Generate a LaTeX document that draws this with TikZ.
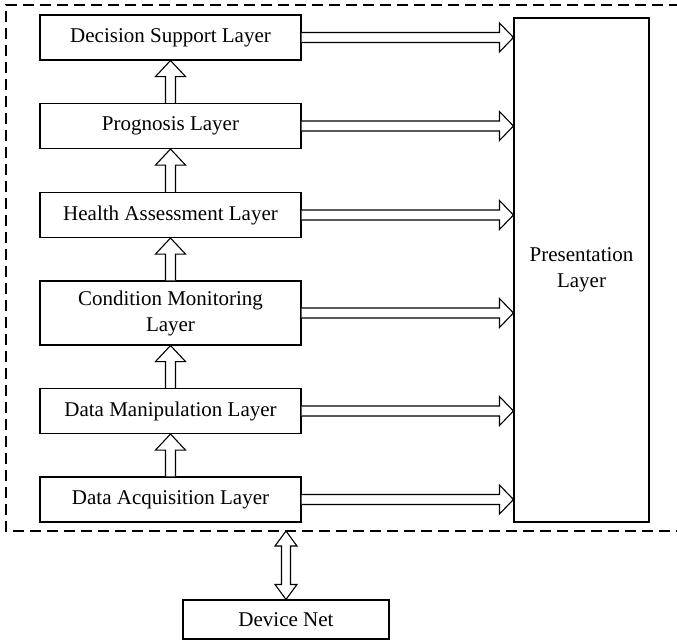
\documentclass[tikz,border=0pt]{standalone}
\usepackage{fontspec}
\setmainfont{Liberation Serif}
\usetikzlibrary{calc}

\tikzset{
  layer/.style={draw, line width=1.1pt, minimum width=261pt, minimum height=45pt,
    align=center, inner sep=0pt, font=\fontsize{21}{26}\selectfont},
  blockarrow/.style={draw, line width=1.1pt, fill=white, line join=miter},
  frame/.style={draw, line width=1.1pt, dash pattern=on 11pt off 6pt}
}

% horizontal block arrow: from node #1 (east side) to presentation layer
\newcommand{\rightblock}[1]{%
  \path (#1.east) coordinate (s) (pres.west |- #1.east) coordinate (t);
  \draw[blockarrow] ($(s)+(0,-5)$) -- ($(t)+(-14,-5)$) -- ($(t)+(-14,-14.5)$) -- (t)
    -- ($(t)+(-14,14.5)$) -- ($(t)+(-14,5)$) -- ($(s)+(0,5)$);
}
% vertical block arrow: from lower node #1 up to upper node #2
\newcommand{\upblock}[2]{%
  \path (#1.north) coordinate (s) (#2.south) coordinate (t);
  \draw[blockarrow] ($(s)+(-5,0)$) -- ($(t)+(-5,16)$) -- ($(t)+(-15,16)$) -- (t)
    -- ($(t)+(15,16)$) -- ($(t)+(5,16)$) -- ($(s)+(5,0)$);
}

\begin{document}
\begin{tikzpicture}[x=1pt, y=-1pt]
\useasboundingbox (0,0) rectangle (677,640);

% layer stack
\node[layer] (dsl) at (170.5,37.5) {Decision Support Layer};
\node[layer] (prg) at (170.5,126) {Prognosis Layer};
\node[layer] (hal) at (170.5,215) {Health Assessment Layer};
\node[layer, minimum height=64pt] (cml) at (170.5,313) {Condition Monitoring\\Layer};
\node[layer] (dml) at (170.5,411) {Data Manipulation Layer};
\node[layer] (dal) at (170.5,499.5) {Data Acquisition Layer};

% presentation layer
\node[layer, minimum width=135pt, minimum height=504pt] (pres) at (581.5,270) {Presentation\\Layer};

% device net
\node[layer, minimum width=206pt, minimum height=39pt] (dev) at (286,619.5) {Device Net};

% dashed enclosure (open on the right)
\coordinate (ftr) at (680,5);
\coordinate (ftl) at (6,5);
\coordinate (fbl) at (6,531);
\coordinate (fbr) at (680,531);
\draw[frame] (ftr) -- (ftl) -- (fbl) -- (fbr);

% arrows into presentation layer
\rightblock{dsl}
\rightblock{prg}
\rightblock{hal}
\rightblock{cml}
\rightblock{dml}
\rightblock{dal}

% upward arrows between layers
\upblock{prg}{dsl}
\upblock{hal}{prg}
\upblock{cml}{hal}
\upblock{dml}{cml}
\upblock{dal}{dml}

% two-way arrow between enclosure and device net
\coordinate (fb) at (dev.north |- fbl);
\draw[blockarrow] (fb) -- ($(fb)+(11,15)$) -- ($(fb)+(4.5,15)$) -- ($(dev.north)+(4.5,-15)$)
  -- ($(dev.north)+(11,-15)$) -- (dev.north) -- ($(dev.north)+(-11,-15)$)
  -- ($(dev.north)+(-4.5,-15)$) -- ($(fb)+(-4.5,15)$) -- ($(fb)+(-11,15)$) -- cycle;
\end{tikzpicture}
\end{document}
